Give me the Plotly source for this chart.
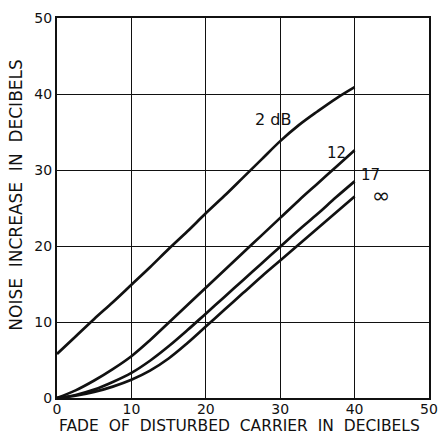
import plotly.graph_objects as go

# Fade of the disturbed carrier (dB), sampled every 2.5 dB
fade = [0, 2.5, 5, 7.5, 10, 12.5, 15, 17.5, 20, 22.5, 25, 27.5, 30, 32.5, 35, 37.5, 40]

# Noise increase (dB) for each interference ratio
noise_2db = [5.8, 8.1, 10.4, 12.6, 14.9, 17.2, 19.6, 21.9, 24.3, 26.6, 29.0, 31.4,
             33.8, 35.9, 37.7, 39.4, 40.9]
noise_12 = [0, 1.0, 2.3, 3.8, 5.5, 7.6, 9.9, 12.2, 14.5, 16.8, 19.1, 21.4,
            23.7, 26.0, 28.2, 30.4, 32.6]
noise_17 = [0, 0.4, 1.1, 2.1, 3.3, 4.9, 6.8, 8.9, 11.1, 13.3, 15.5, 17.7,
            19.9, 22.1, 24.2, 26.4, 28.5]
noise_inf = [0, 0.3, 0.8, 1.5, 2.4, 3.6, 5.2, 7.2, 9.4, 11.6, 13.8, 16.0,
             18.1, 20.2, 22.3, 24.4, 26.5]

curve_labels = ["2 dB", "12", "17", "\u221e"]
label_x = [29.0, 37.6, 42.2, 43.6]
label_y = [36.6, 32.3, 29.3, 26.7]
label_size = [16, 15, 15, 22]

tick_vals = [0, 10, 20, 30, 40, 50]

FONT = "DejaVu Sans"
INK = "#111111"

fig = go.Figure()
for ny in [noise_2db, noise_12, noise_17, noise_inf]:
    fig.add_trace(go.Scatter(
        x=fade, y=ny, mode="lines",
        line=dict(color=INK, width=2.7, shape="spline", smoothing=1.0),
        showlegend=False, hoverinfo="skip"))

for txt, lx, ly, sz in zip(curve_labels, label_x, label_y, label_size):
    fig.add_annotation(x=lx, y=ly, text=txt, showarrow=False,
                       font=dict(family=FONT, size=sz, color=INK))

axis_common = dict(
    range=[0, 50], tickvals=tick_vals, ticks="",
    showgrid=True, gridcolor=INK, gridwidth=1.3,
    showline=True, linecolor=INK, linewidth=2.2, mirror=True,
    zeroline=False, tickfont=dict(family=FONT, size=14, color=INK),
    fixedrange=True,
)

fig.update_xaxes(ticklabelstandoff=-3, **axis_common)
fig.update_yaxes(**axis_common)

fig.add_annotation(
    x=0.49, y=0, xref="paper", yref="paper", yshift=-28, yanchor="middle",
    borderpad=0,
    text="FADE\u00a0 OF\u00a0 DISTURBED\u00a0 CARRIER\u00a0 IN\u00a0 DECIBELS",
    showarrow=False, font=dict(family=FONT, size=15.5, color=INK))
fig.add_annotation(
    x=0, y=0.535, xref="paper", yref="paper", xshift=-41, xanchor="center",
    text="NOISE\u00a0 INCREASE\u00a0 IN\u00a0 DECIBELS", textangle=-90,
    showarrow=False, font=dict(family=FONT, size=17, color=INK))

fig.update_layout(
    width=448, height=436,
    margin=dict(l=57, r=10, t=18, b=38),
    paper_bgcolor="white", plot_bgcolor="white",
)

fig.write_html("out.html")
